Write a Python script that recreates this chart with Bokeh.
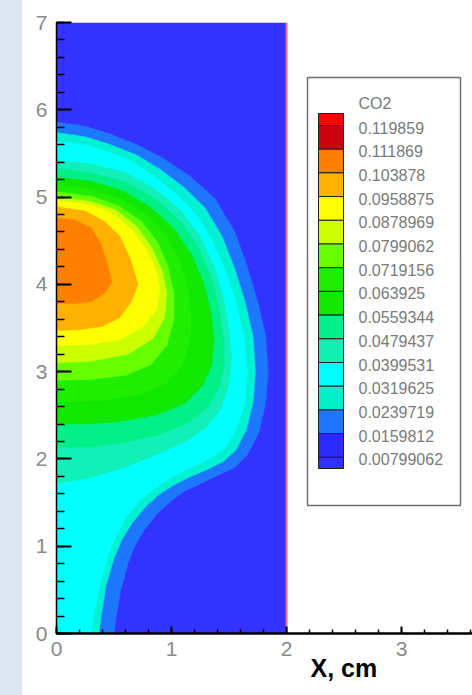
from bokeh.plotting import figure
from bokeh.models import SingleIntervalTicker, Range1d, Title, Spacer
from bokeh.layouts import row
from bokeh.embed import file_html
from bokeh.resources import INLINE

# ---------------- data ----------------
domain_x = [0.0, 2.0]
domain_y = [0.0, 7.0]

level_labels = ["0.119859", "0.111869", "0.103878", "0.0958875", "0.0878969",
                "0.0799062", "0.0719156", "0.063925", "0.0559344", "0.0479437",
                "0.0399531", "0.0319625", "0.0239719", "0.0159812", "0.00799062"]
legend_colors = ["#ff0000", "#cc0010", "#ff8000", "#ffb000", "#ffff00", "#ccff00",
                 "#66ff00", "#20ee00", "#10e800", "#00f088", "#10f0b0", "#00ffff",
                 "#00f0c8", "#1e78ff", "#2a2aff", "#3030ff"]
background_color = "#3333ff"

# contour boundaries (region with CO2 above the level lies between x=0 and the curve)
c016_x = [0, 0.25, 0.45, 0.70, 0.92, 1.15, 1.38, 1.55, 1.66, 1.75, 1.82, 1.84, 1.82, 1.76, 1.66, 1.55, 1.40, 1.26, 1.10, 1.00, 0.88, 0.76, 0.68, 0.62, 0.56, 0.52, 0.50, 0]
c016_y = [5.86, 5.81, 5.73, 5.60, 5.45, 5.25, 4.98, 4.60, 4.20, 3.80, 3.40, 3.00, 2.65, 2.30, 2.05, 1.90, 1.81, 1.72, 1.62, 1.52, 1.38, 1.18, 1.00, 0.80, 0.50, 0.20, 0.00, 0.00]
c024_x = [0, 0.25, 0.45, 0.70, 0.90, 1.10, 1.29, 1.44, 1.55, 1.64, 1.71, 1.73, 1.71, 1.65, 1.56, 1.45, 1.31, 1.17, 1.02, 0.90, 0.78, 0.66, 0.57, 0.50, 0.43, 0.39, 0.37, 0]
c024_y = [5.74, 5.69, 5.61, 5.48, 5.32, 5.12, 4.88, 4.55, 4.18, 3.80, 3.40, 3.00, 2.65, 2.33, 2.10, 1.97, 1.88, 1.80, 1.70, 1.60, 1.46, 1.27, 1.08, 0.86, 0.55, 0.22, 0.00, 0.00]
c032_x = [0, 0.25, 0.45, 0.68, 0.87, 1.06, 1.23, 1.36, 1.47, 1.56, 1.63, 1.66, 1.64, 1.57, 1.48, 1.37, 1.24, 1.10, 0.96, 0.84, 0.72, 0.60, 0.52, 0.45, 0.38, 0.33, 0.30, 0]
c032_y = [5.64, 5.60, 5.52, 5.39, 5.22, 5.01, 4.78, 4.48, 4.15, 3.80, 3.40, 3.00, 2.65, 2.36, 2.15, 2.03, 1.94, 1.86, 1.76, 1.65, 1.52, 1.32, 1.12, 0.90, 0.58, 0.24, 0.00, 0.00]
c040_x = [0, 0.30, 0.60, 0.86, 1.08, 1.25, 1.37, 1.45, 1.50, 1.52, 1.50, 1.43, 1.31, 1.12, 0.87, 0.58, 0.28, 0]
c040_y = [5.42, 5.38, 5.28, 5.09, 4.85, 4.55, 4.20, 3.85, 3.50, 3.15, 2.85, 2.58, 2.37, 2.20, 2.05, 1.90, 1.78, 1.72]
c048_x = [0, 0.30, 0.60, 0.86, 1.07, 1.23, 1.34, 1.41, 1.45, 1.46, 1.42, 1.32, 1.15, 0.90, 0.60, 0.30, 0]
c048_y = [5.33, 5.28, 5.17, 4.98, 4.73, 4.44, 4.10, 3.76, 3.42, 3.10, 2.82, 2.60, 2.42, 2.28, 2.19, 2.14, 2.13]
c056_x = [0, 0.30, 0.58, 0.82, 1.02, 1.17, 1.28, 1.34, 1.37, 1.35, 1.27, 1.12, 0.88, 0.55, 0.25, 0]
c056_y = [5.23, 5.18, 5.07, 4.88, 4.64, 4.35, 4.02, 3.70, 3.38, 3.08, 2.84, 2.64, 2.51, 2.43, 2.40, 2.40]
c064_x = [0, 0.30, 0.56, 0.78, 0.95, 1.07, 1.14, 1.17, 1.16, 1.10, 0.96, 0.72, 0.40, 0]
c064_y = [5.14, 5.09, 4.98, 4.80, 4.56, 4.28, 3.98, 3.65, 3.35, 3.08, 2.87, 2.74, 2.67, 2.65]
c072_x = [0, 0.30, 0.54, 0.74, 0.88, 0.97, 1.02, 1.02, 0.96, 0.82, 0.60, 0.30, 0]
c072_y = [5.06, 5.01, 4.90, 4.72, 4.48, 4.20, 3.90, 3.60, 3.30, 3.08, 2.96, 2.91, 2.90]
c080_x = [0, 0.30, 0.52, 0.70, 0.83, 0.92, 0.96, 0.94, 0.84, 0.62, 0.30, 0]
c080_y = [5.00, 4.95, 4.85, 4.66, 4.42, 4.15, 3.90, 3.62, 3.38, 3.20, 3.12, 3.10]
c088_x = [0, 0.30, 0.50, 0.66, 0.78, 0.87, 0.90, 0.87, 0.76, 0.56, 0.30, 0]
c088_y = [4.96, 4.91, 4.80, 4.62, 4.40, 4.15, 3.95, 3.72, 3.52, 3.37, 3.31, 3.30]
c096_x = [0, 0.25, 0.42, 0.55, 0.64, 0.71, 0.65, 0.55, 0.40, 0.20, 0]
c096_y = [4.89, 4.84, 4.72, 4.55, 4.30, 4.00, 3.80, 3.62, 3.52, 3.48, 3.47]
c104_x = [0, 0.15, 0.30, 0.38, 0.44, 0.48, 0.42, 0.30, 0.15, 0]
c104_y = [4.76, 4.74, 4.65, 4.48, 4.25, 4.02, 3.90, 3.80, 3.78, 3.78]

contours = [
    (c016_x, c016_y, "#1e78ff"),
    (c024_x, c024_y, "#00f0d4"),
    (c032_x, c032_y, "#00ffff"),
    (c040_x, c040_y, "#10f0b8"),
    (c048_x, c048_y, "#00f088"),
    (c056_x, c056_y, "#10e800"),
    (c064_x, c064_y, "#20ee00"),
    (c072_x, c072_y, "#66ff00"),
    (c080_x, c080_y, "#ccff00"),
    (c088_x, c088_y, "#ffff00"),
    (c096_x, c096_y, "#ffb000"),
    (c104_x, c104_y, "#ff8000"),
]

# ---------------- layout helpers (page pixels -> data) ----------------
STRIP_W = 22
FIG_W, FIG_H = 450, 695
BORDER_L, BORDER_T, BORDER_B = 34, 22, 62
FRAME_LEFT_PX = STRIP_W + BORDER_L
FRAME_BOTTOM_PX = FIG_H - BORDER_B
PX_PER_X = 115.0
PX_PER_Y = (FIG_H - BORDER_T - BORDER_B) / 7.0


def dx(px):
    return (px - FRAME_LEFT_PX) / PX_PER_X


def dy(py):
    return (FRAME_BOTTOM_PX - py) / PX_PER_Y


FONT = "Liberation Sans"

p = figure(width=FIG_W, height=FIG_H,
           x_range=Range1d(0, (FIG_W - BORDER_L) / PX_PER_X), y_range=Range1d(0, 7),
           output_backend="svg", toolbar_location=None,
           min_border_left=BORDER_L, min_border_right=0,
           min_border_top=BORDER_T, min_border_bottom=BORDER_B)
p.background_fill_color = "white"
p.border_fill_color = "white"
p.outline_line_color = None
p.grid.visible = False

# domain background
p.quad(left=[domain_x[0]], right=[domain_x[1]], bottom=[domain_y[0]], top=[domain_y[1]],
       fill_color=background_color, line_color=None)
for cx, cy, col in contours:
    p.patch(cx, cy, fill_color=col, line_color=col, line_width=0.5)

# right boundary line
p.segment(x0=[domain_x[1]], y0=[domain_y[0]], x1=[domain_x[1]], y1=[domain_y[1]],
          line_color="#f06478", line_width=2)

# axes
for ax, tin, tmin in ((p.yaxis[0], 15, 8), (p.xaxis[0], 7, 4)):
    ax.ticker = SingleIntervalTicker(interval=1, num_minor_ticks=5)
    ax.major_tick_in = tin
    ax.major_tick_out = 0
    ax.minor_tick_in = tmin
    ax.minor_tick_out = 0
    ax.major_tick_line_color = "black"
    ax.minor_tick_line_color = "black"
    ax.major_tick_line_width = 2
    ax.minor_tick_line_width = 1.5
    ax.axis_line_color = "black"
    ax.major_label_text_font = FONT
    ax.major_label_text_font_size = "21px"
    ax.major_label_text_color = "#8a8a8a"
p.yaxis.axis_line_width = 1.5
p.xaxis.axis_line_width = 2.5
p.yaxis.major_label_standoff = 9
p.xaxis.major_label_standoff = 8

# legend box
p.quad(left=[dx(307)], right=[dx(460)], top=[dy(77)], bottom=[dy(505)],
       fill_color="white", line_color="#707070", line_width=1.5)
n = len(level_labels)
step = 23.7
bounds_px = [125 + step * i for i in range(n)]
tops_px = [113] + bounds_px
bots_px = bounds_px + [468]
p.quad(left=[dx(318)] * len(legend_colors), right=[dx(343)] * len(legend_colors),
       top=[dy(t) for t in tops_px], bottom=[dy(b) for b in bots_px],
       fill_color=legend_colors, line_color="#202020", line_width=1)
p.text(x=[dx(358)] * n, y=[dy(b + 2) for b in bounds_px], text=level_labels,
       text_font_size="16px", text_color="#7a7a7a", text_baseline="middle",
       text_align="left", text_font={"value": FONT})
p.text(x=[dx(358)], y=[dy(103)], text=["CO2"], text_font_size="16px", text_color="#7a7a7a",
       text_baseline="middle", text_align="left", text_font={"value": FONT})

p.add_layout(Title(text="X, cm", align="left", offset=254, text_font_size="25px",
                   text_font_style="bold", text_font=FONT, text_color="black",
                   standoff=-14), "below")

left_strip = Spacer(width=STRIP_W, height=FIG_H, styles={"background-color": "#dde7f2"})
layout = row(left_strip, p)

open("out.html", "w").write(file_html(layout, INLINE))
